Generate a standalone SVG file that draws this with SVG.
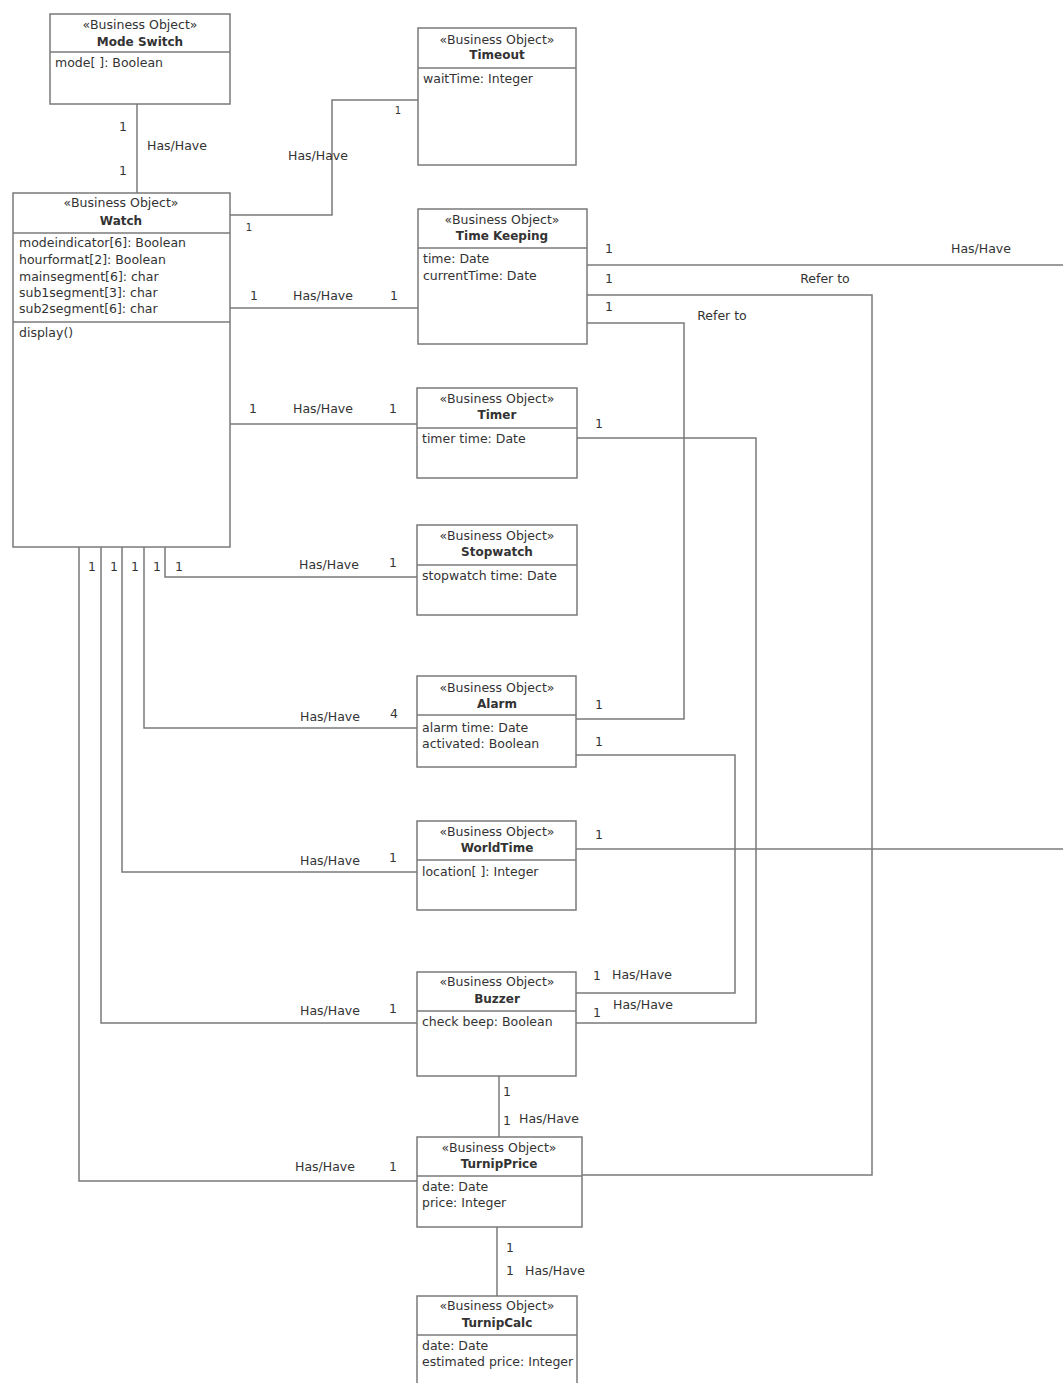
<svg xmlns="http://www.w3.org/2000/svg" width="1063" height="1383" viewBox="0 0 1063 1383">
<style>
.box{fill:#fff;stroke:#7a7a7a;stroke-width:1.5}
.div{stroke:#7a7a7a;stroke-width:1.5}
.st{font-family:"DejaVu Sans",sans-serif;font-size:12.5px;fill:#333;text-anchor:middle}
.ti{font-family:"DejaVu Sans",sans-serif;font-size:12px;font-weight:bold;fill:#333;text-anchor:middle}
.at{font-family:"DejaVu Sans",sans-serif;font-size:12.5px;fill:#333}
.lb{font-family:"DejaVu Sans",sans-serif;font-size:12.5px;fill:#333;text-anchor:middle}
.sm{font-family:"DejaVu Sans",sans-serif;font-size:10px;fill:#333;text-anchor:middle}
.cn{fill:none;stroke:#7a7a7a;stroke-width:1.5}
</style>
<rect width="1063" height="1383" fill="#fff"/>
<g id="connectors">
<path class="cn" d="M137 104V193"/>
<path class="cn" d="M230 215H332V100H418"/>
<path class="cn" d="M230 308H418"/>
<path class="cn" d="M230 424H417"/>
<path class="cn" d="M165 547V577H417"/>
<path class="cn" d="M144 547V728H417"/>
<path class="cn" d="M122 547V872H417"/>
<path class="cn" d="M101 547V1023H417"/>
<path class="cn" d="M79 547V1181H417"/>
<path class="cn" d="M587 265H1063"/>
<path class="cn" d="M587 295H872V1175H582"/>
<path class="cn" d="M587 323H684V719H576"/>
<path class="cn" d="M577 438H756V1023H576"/>
<path class="cn" d="M576 755H735V993H576"/>
<path class="cn" d="M576 849H1063"/>
<path class="cn" d="M499 1076V1137"/>
<path class="cn" d="M497 1227V1296"/>
<g id="labels">
<text class="lb" x="123" y="131">1</text>
<text class="lb" x="177" y="150">Has/Have</text>
<text class="lb" x="123" y="175">1</text>
<text class="lb" x="318" y="160">Has/Have</text>
<text class="sm" x="398" y="114">1</text>
<text class="sm" x="249" y="231">1</text>
<text class="lb" x="254" y="300">1</text>
<text class="lb" x="323" y="300">Has/Have</text>
<text class="lb" x="394" y="300">1</text>
<text class="lb" x="609" y="253">1</text>
<text class="lb" x="981" y="253">Has/Have</text>
<text class="lb" x="609" y="283">1</text>
<text class="lb" x="825" y="283">Refer to</text>
<text class="lb" x="609" y="311">1</text>
<text class="lb" x="722" y="320">Refer to</text>
<text class="lb" x="253" y="413">1</text>
<text class="lb" x="323" y="413">Has/Have</text>
<text class="lb" x="393" y="413">1</text>
<text class="lb" x="599" y="428">1</text>
<text class="lb" x="92" y="571">1</text>
<text class="lb" x="114" y="571">1</text>
<text class="lb" x="135" y="571">1</text>
<text class="lb" x="157" y="571">1</text>
<text class="lb" x="179" y="571">1</text>
<text class="lb" x="329" y="569">Has/Have</text>
<text class="lb" x="393" y="567">1</text>
<text class="lb" x="330" y="721">Has/Have</text>
<text class="lb" x="394" y="718">4</text>
<text class="lb" x="599" y="709">1</text>
<text class="lb" x="599" y="746">1</text>
<text class="lb" x="330" y="865">Has/Have</text>
<text class="lb" x="393" y="862">1</text>
<text class="lb" x="599" y="839">1</text>
<text class="lb" x="330" y="1015">Has/Have</text>
<text class="lb" x="393" y="1013">1</text>
<text class="lb" x="597" y="980">1</text>
<text class="lb" x="642" y="979">Has/Have</text>
<text class="lb" x="643" y="1009">Has/Have</text>
<text class="lb" x="597" y="1017">1</text>
<text class="lb" x="507" y="1096">1</text>
<text class="lb" x="507" y="1125">1</text>
<text class="lb" x="549" y="1123">Has/Have</text>
<text class="lb" x="325" y="1171">Has/Have</text>
<text class="lb" x="393" y="1171">1</text>
<text class="lb" x="510" y="1252">1</text>
<text class="lb" x="510" y="1275">1</text>
<text class="lb" x="555" y="1275">Has/Have</text>
</g>
</g>
<g id="mode-switch">
<rect class="box" x="50" y="14" width="180" height="90"/>
<line class="div" x1="50" y1="52" x2="230" y2="52"/>
<text class="st" x="140" y="29">«Business Object»</text>
<text class="ti" x="140" y="46">Mode Switch</text>
<text class="at" x="55" y="67">mode[ ]: Boolean</text>
</g>
<g id="watch">
<rect class="box" x="13" y="193" width="217" height="354"/>
<line class="div" x1="13" y1="233" x2="230" y2="233"/>
<line class="div" x1="13" y1="322" x2="230" y2="322"/>
<text class="st" x="121" y="207">«Business Object»</text>
<text class="ti" x="121" y="225">Watch</text>
<text class="at" x="19" y="247">modeindicator[6]: Boolean</text>
<text class="at" x="19" y="264">hourformat[2]: Boolean</text>
<text class="at" x="19" y="281">mainsegment[6]: char</text>
<text class="at" x="19" y="297">sub1segment[3]: char</text>
<text class="at" x="19" y="313">sub2segment[6]: char</text>
<text class="at" x="19" y="337">display()</text>
</g>
<g id="timeout">
<rect class="box" x="418" y="28" width="158" height="137"/>
<line class="div" x1="418" y1="68" x2="576" y2="68"/>
<text class="st" x="497" y="44">«Business Object»</text>
<text class="ti" x="497" y="59">Timeout</text>
<text class="at" x="423" y="83">waitTime: Integer</text>
</g>
<g id="time-keeping">
<rect class="box" x="418" y="209" width="169" height="135"/>
<line class="div" x1="418" y1="248" x2="587" y2="248"/>
<text class="st" x="502" y="224">«Business Object»</text>
<text class="ti" x="502" y="240">Time Keeping</text>
<text class="at" x="423" y="263">time: Date</text>
<text class="at" x="423" y="280">currentTime: Date</text>
</g>
<g id="timer">
<rect class="box" x="417" y="388" width="160" height="90"/>
<line class="div" x1="417" y1="428" x2="577" y2="428"/>
<text class="st" x="497" y="403">«Business Object»</text>
<text class="ti" x="497" y="419">Timer</text>
<text class="at" x="422" y="443">timer time: Date</text>
</g>
<g id="stopwatch">
<rect class="box" x="417" y="525" width="160" height="90"/>
<line class="div" x1="417" y1="565" x2="577" y2="565"/>
<text class="st" x="497" y="540">«Business Object»</text>
<text class="ti" x="497" y="556">Stopwatch</text>
<text class="at" x="422" y="580">stopwatch time: Date</text>
</g>
<g id="alarm">
<rect class="box" x="417" y="676" width="159" height="91"/>
<line class="div" x1="417" y1="715" x2="576" y2="715"/>
<text class="st" x="497" y="692">«Business Object»</text>
<text class="ti" x="497" y="708">Alarm</text>
<text class="at" x="422" y="732">alarm time: Date</text>
<text class="at" x="422" y="748">activated: Boolean</text>
</g>
<g id="worldtime">
<rect class="box" x="417" y="821" width="159" height="89"/>
<line class="div" x1="417" y1="860" x2="576" y2="860"/>
<text class="st" x="497" y="836">«Business Object»</text>
<text class="ti" x="497" y="852">WorldTime</text>
<text class="at" x="422" y="876">location[ ]: Integer</text>
</g>
<g id="buzzer">
<rect class="box" x="417" y="972" width="159" height="104"/>
<line class="div" x1="417" y1="1011" x2="576" y2="1011"/>
<text class="st" x="497" y="986">«Business Object»</text>
<text class="ti" x="497" y="1003">Buzzer</text>
<text class="at" x="422" y="1026">check beep: Boolean</text>
</g>
<g id="turnip-price">
<rect class="box" x="417" y="1137" width="165" height="90"/>
<line class="div" x1="417" y1="1176" x2="582" y2="1176"/>
<text class="st" x="499" y="1152">«Business Object»</text>
<text class="ti" x="499" y="1168">TurnipPrice</text>
<text class="at" x="422" y="1191">date: Date</text>
<text class="at" x="422" y="1207">price: Integer</text>
</g>
<g id="turnip-calc">
<rect class="box" x="417" y="1296" width="160" height="100"/>
<line class="div" x1="417" y1="1335" x2="577" y2="1335"/>
<text class="st" x="497" y="1310">«Business Object»</text>
<text class="ti" x="497" y="1327">TurnipCalc</text>
<text class="at" x="422" y="1350">date: Date</text>
<text class="at" x="422" y="1366">estimated price: Integer</text>
</g>
</svg>
